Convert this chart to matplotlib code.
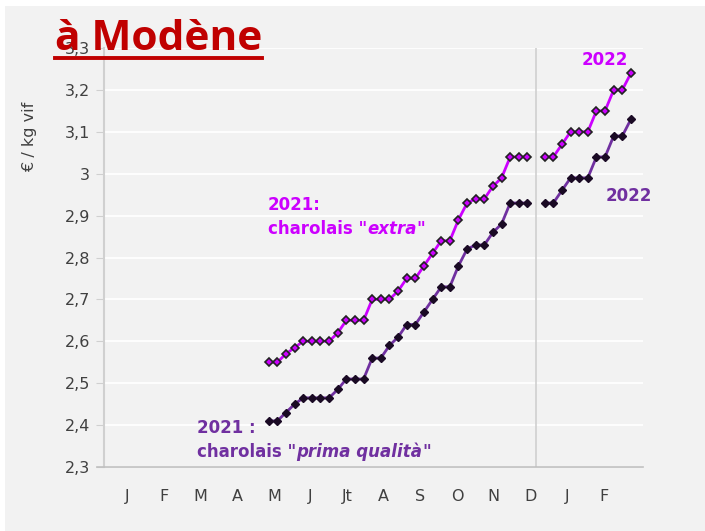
import numpy as np
import matplotlib.pyplot as plt
from matplotlib.patches import Rectangle
from matplotlib.lines import Line2D

# semaines (index de position sur l'axe)
semaines_2021 = list(range(18, 49))
semaines_2022 = list(range(50, 61))

extra_2021 = [2.55, 2.55, 2.57, 2.585, 2.60, 2.60, 2.60, 2.60, 2.62, 2.65, 2.65,
              2.65, 2.70, 2.70, 2.70, 2.72, 2.75, 2.75, 2.78, 2.81, 2.84, 2.84,
              2.89, 2.93, 2.94, 2.94, 2.97, 2.99, 3.04, 3.04, 3.04]
prima_2021 = [2.41, 2.41, 2.43, 2.45, 2.465, 2.465, 2.465, 2.465, 2.485, 2.51, 2.51,
              2.51, 2.56, 2.56, 2.59, 2.61, 2.64, 2.64, 2.67, 2.70, 2.73, 2.73,
              2.78, 2.82, 2.83, 2.83, 2.86, 2.88, 2.93, 2.93, 2.93]
extra_2022 = [3.04, 3.04, 3.07, 3.10, 3.10, 3.10, 3.15, 3.15, 3.20, 3.20, 3.24]
prima_2022 = [2.93, 2.93, 2.96, 2.99, 2.99, 2.99, 3.04, 3.04, 3.09, 3.09, 3.13]

mois = ['J', 'F', 'M', 'A', 'M', 'J', 'Jt', 'A', 'S', 'O', 'N', 'D', 'J', 'F']
y_ticks = [2.3, 2.4, 2.5, 2.6, 2.7, 2.8, 2.9, 3.0, 3.1, 3.2, 3.3]

c_extra = '#cc00ff'
c_prima = '#7030a0'
bg = '#f2f2f2'
font_annot = ['DejaVu Sans']

fig = plt.figure(figsize=(7.05, 5.31), dpi=100, facecolor='white')
fig.patches.append(Rectangle((5 / 705, 0), 1, 1 - 6 / 531, transform=fig.transFigure,
                             facecolor=bg, edgecolor='none', zorder=-10))

ax = fig.add_axes([104 / 705, 1 - 467 / 531, (643 - 104) / 705, (467 - 48) / 531])
ax.set_facecolor(bg)
ax.set_xlim(-1.1, 61.4)
ax.set_ylim(2.3, 3.3)

for yv in y_ticks:
    ax.axhline(yv, color='white', lw=1.3, zorder=0)
ax.axvline(49, color='#d0d0d0', lw=1.2, zorder=1)

for x, y in [(semaines_2021, extra_2021), (semaines_2022, extra_2022)]:
    ax.plot(x, y, color=c_extra, lw=2, marker='D', markersize=4,
            markerfacecolor=c_extra, markeredgecolor='#222222', markeredgewidth=1.2, zorder=3)
for x, y in [(semaines_2021, prima_2021), (semaines_2022, prima_2022)]:
    ax.plot(x, y, color=c_prima, lw=2, marker='D', markersize=4,
            markerfacecolor='#1a0a24', markeredgecolor='#1a0a24', markeredgewidth=1, zorder=3)

ax.set_yticks(y_ticks)
ax.set_yticklabels([f'{v:g}'.replace('.', ',') for v in y_ticks], fontsize=11.5, color='#404040')
ax.set_xticks([1.6 + 4.25 * k for k in range(len(mois))])
ax.set_xticklabels(mois, fontsize=11.5, color='#404040')
ax.tick_params(axis='y', length=6, color='#d0d0d0', pad=4)
ax.tick_params(axis='x', length=0, pad=16)
for s in ['top', 'right']:
    ax.spines[s].set_visible(False)
ax.spines['left'].set_color('#d0d0d0')
ax.spines['left'].set_linewidth(1.5)
ax.spines['bottom'].set_color('#c0c0c0')
ax.spines['bottom'].set_linewidth(1.2)
ax.spines['bottom'].set_bounds(-1.9, 61.4)


def texte_mixte(x, y, debut, italique, fin, color):
    t1 = ax.text(x, y, debut, color=color, fontsize=12, fontweight='bold',
                 family=font_annot, va='center', ha='left')
    t2 = ax.annotate(italique, xy=(1, 0), xycoords=t1, va='bottom', ha='left',
                     color=color, fontsize=12, fontweight='bold', style='italic',
                     family=font_annot)
    ax.annotate(fin, xy=(1, 0), xycoords=t2, va='bottom', ha='left',
                color=color, fontsize=12, fontweight='bold', family=font_annot)


ax.text(17.9, 2.925, '2021:', color=c_extra, fontsize=12, fontweight='bold',
        family=font_annot, va='center', ha='left')
texte_mixte(17.9, 2.868, 'charolais "', 'extra', '"', c_extra)
ax.text(9.7, 2.393, '2021 :', color=c_prima, fontsize=12, fontweight='bold',
        family=font_annot, va='center', ha='left')
texte_mixte(9.7, 2.336, 'charolais "', 'prima qualità', '"', c_prima)
ax.text(57.0, 3.272, '2022', color=c_extra, fontsize=12, fontweight='bold',
        family=font_annot, va='center', ha='center')
ax.text(59.8, 2.947, '2022', color=c_prima, fontsize=12, fontweight='bold',
        family=font_annot, va='center', ha='center')

fig.text(30 / 705, 1 - 137 / 531, '€ / kg vif', rotation=90, fontsize=11.5,
         color='#404040', ha='center', va='center')

titre = fig.text(55 / 705, 1 - 50 / 531, 'à Modène', fontsize=30.5, fontweight='bold',
                 color='#c00000', family=['Open Sans', 'DejaVu Sans'], ha='left',
                 va='baseline', zorder=5)
fig.lines.append(Line2D([55 / 705, 262 / 705], [1 - 58 / 531, 1 - 58 / 531],
                        transform=fig.transFigure, color='#c00000', lw=2.8, zorder=5))

fig.savefig('out.png', dpi=100, facecolor=fig.get_facecolor())
